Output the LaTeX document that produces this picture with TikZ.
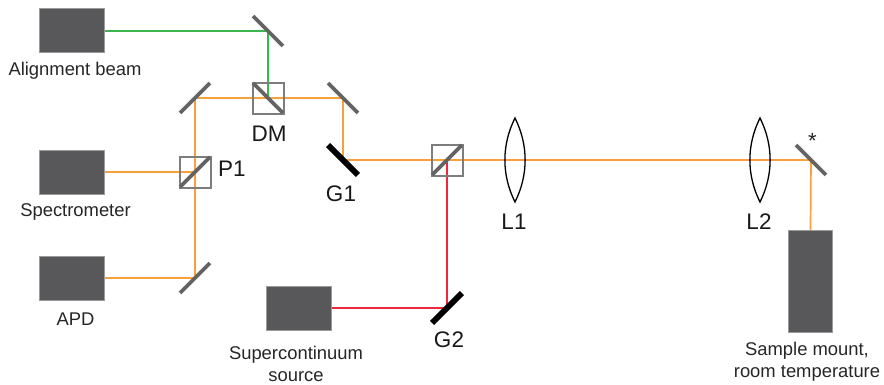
\documentclass[tikz,border=0pt]{standalone}
\usepackage{fontspec}
\setmainfont{Liberation Sans}
\usetikzlibrary{backgrounds}
\definecolor{beamorange}{RGB}{248,160,60}
\definecolor{beamgreen}{RGB}{60,180,80}
\definecolor{beamred}{RGB}{238,40,60}
\definecolor{boxgray}{RGB}{88,88,90}
\definecolor{mirrorgray}{RGB}{100,100,100}
\definecolor{cubegray}{RGB}{125,125,125}
\begin{document}
\begin{tikzpicture}[yscale=-1
,devbox/.style={fill=boxgray,draw=boxgray!60,line width=0.5pt,minimum width=65pt,minimum height=44pt,inner sep=0}
,mirror/.style={fill=mirrorgray,minimum width=42.4pt,minimum height=3.6pt,inner sep=0}
,grating/.style={fill=black,minimum width=42.4pt,minimum height=5.8pt,inner sep=0}
,cube/.style={draw=cubegray,line width=2pt,minimum size=31pt,inner sep=0}
,lens/.style={color=black,line width=1.3pt}
,orange/.style={color=beamorange,line width=1.7pt}
,green/.style={color=beamgreen,line width=1.7pt}
,red/.style={color=beamred,line width=1.7pt}
,smalltext/.style={color=black!85,inner sep=0,align=center,font=\fontsize{18.4pt}{22pt}\selectfont}
,bigtext/.style={color=black!90,inner sep=0,font=\fontsize{22.5pt}{24pt}\selectfont}
]
\useasboundingbox (0pt,0pt) rectangle (884pt,384pt);
\node[devbox] (alignment) at (71.5pt,30.5pt) {};
\node[devbox] (spectrometer) at (71.5pt,172pt) {};
\node[devbox] (apd) at (71.5pt,278pt) {};
\node[devbox] (source) at (298.5pt,308pt) {};
\node[devbox,minimum width=44pt,minimum height=102pt] (sample) at (810.5pt,281pt) {};
\node[mirror,rotate=-45] (mirroralign) at (268pt,31pt) {};
\node[mirror,rotate=45] (mirrorleft) at (195pt,98pt) {};
\node[mirror,rotate=-45] (mirrorright) at (343pt,98pt) {};
\node[mirror,rotate=45] (mirrorapd) at (195pt,278pt) {};
\node[mirror,rotate=-45] (mirrorsample) at (811pt,160pt) {};
\node[grating,rotate=-45] (gone) at (343pt,160pt) {};
\node[grating,rotate=45] (gtwo) at (447pt,308pt) {};
\node[cube] (dm) at (268pt,98pt) {};
\node[mirror,rotate=-45] (dmsplit) at (268pt,98pt) {};
\node[cube] (pone) at (195pt,172pt) {};
\node[mirror,rotate=45] (ponesplit) at (195pt,172pt) {};
\node[cube] (bs) at (447pt,160pt) {};
\node[mirror,rotate=45] (bssplit) at (447pt,160pt) {};
\draw[lens] (515pt,118pt) .. controls (501.5pt,145pt) and (501.5pt,175pt) .. (515pt,202pt) .. controls (528.5pt,175pt) and (528.5pt,145pt) .. (515pt,118pt) -- cycle;
\draw[lens] (760pt,118pt) .. controls (746.5pt,145pt) and (746.5pt,175pt) .. (760pt,202pt) .. controls (773.5pt,175pt) and (773.5pt,145pt) .. (760pt,118pt) -- cycle;
\begin{scope}[on background layer]
\draw[green] (alignment.east |- mirroralign) -- (mirroralign.center) -- (dmsplit.center);
\draw[orange] (spectrometer.east) -- (ponesplit.center);
\draw[orange] (apd.east) -- (mirrorapd.center) -- (mirrorleft.center) -- (mirrorright.center) -- (gone.center) -- (mirrorsample.center) -- (sample.north);
\draw[red] (source.east) -- (gtwo.center) -- (bssplit.center);
\end{scope}
\node[smalltext] (alignmentlabel) at (75pt,71pt) {Alignment beam};
\node[smalltext] (spectrometerlabel) at (75.5pt,212pt) {Spectrometer};
\node[smalltext] (apdlabel) at (75.5pt,319pt) {APD};
\node[smalltext] (sourcelabel) at (296pt,364pt) {Supercontinuum\\source};
\node[smalltext] (samplelabel) at (807pt,362pt) {Sample mount,\\room temperature};
\node[smalltext,font=\fontsize{22pt}{22pt}\selectfont] (starlabel) at (812.5pt,141pt) {*};
\node[bigtext] (dmlabel) at (269pt,134pt) {DM};
\node[bigtext] (ponelabel) at (232pt,169pt) {P1};
\node[bigtext] (gonelabel) at (341pt,194pt) {G1};
\node[bigtext] (gtwolabel) at (449pt,340pt) {G2};
\node[bigtext] (lonelabel) at (514pt,222pt) {L1};
\node[bigtext] (ltwolabel) at (759pt,222pt) {L2};
\end{tikzpicture}
\end{document}
